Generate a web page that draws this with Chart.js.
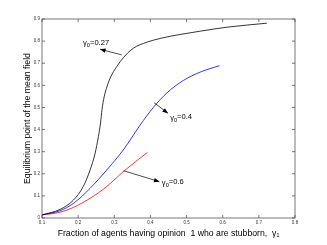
<!DOCTYPE html>
<html>
<head>
<meta charset="utf-8">
<script src="https://cdn.jsdelivr.net/npm/chart.js@4/dist/chart.umd.min.js"></script>
<style>
  html, body { margin: 0; padding: 0; background: #fff; }
  #wrap { width: 327px; height: 245px; }
</style>
</head>
<body>
<div id="wrap"><canvas id="myChart" width="327" height="245"></canvas></div>
<script>
// values
var x027 = [0.10, 0.15, 0.187, 0.214, 0.233, 0.247, 0.256, 0.262, 0.266, 0.272, 0.28, 0.29, 0.307, 0.325, 0.353, 0.39, 0.427, 0.455, 0.482, 0.538, 0.612, 0.722];
var y027 = [0.014, 0.039, 0.081, 0.142, 0.217, 0.293, 0.368, 0.43, 0.49, 0.548, 0.595, 0.638, 0.685, 0.725, 0.768, 0.795, 0.812, 0.822, 0.83, 0.845, 0.863, 0.881];

var x04 = [0.10, 0.15, 0.187, 0.233, 0.279, 0.325, 0.344, 0.371, 0.408, 0.445, 0.491, 0.538, 0.591];
var y04 = [0.014, 0.033, 0.066, 0.134, 0.217, 0.308, 0.353, 0.419, 0.50, 0.565, 0.622, 0.66, 0.689];

var x06 = [0.10, 0.15, 0.187, 0.233, 0.279, 0.325, 0.392];
var y06 = [0.014, 0.026, 0.048, 0.089, 0.142, 0.21, 0.297];

var xTicks = [0.1, 0.2, 0.3, 0.4, 0.5, 0.6, 0.7, 0.8];
var yTicks = [0, 0.1, 0.2, 0.3, 0.4, 0.5, 0.6, 0.7, 0.8, 0.9];

// labels: text after gamma_0, label anchor, arrow from curve -> head
var noteText = ['=0.27', '=0.4', '=0.6'];
var noteAt = [[0.2136, 0.783], [0.4546, 0.4466], [0.4316, 0.1525]];
var arrowFrom = [[0.3208, 0.7376], [0.4102, 0.5217], [0.3252, 0.214]];
var arrowTo = [[0.2607, 0.7633], [0.4485, 0.4738], [0.4249, 0.1643]];

var FONT = '"Liberation Sans", Arial, Helvetica, sans-serif';

function pts(xs, ys) {
    var out = [];
    for (var i = 0; i < xs.length; i++) out.push({x: xs[i], y: ys[i]});
    return out;
}

function arrow(ctx, x0, y0, x1, y1) {
    ctx.beginPath();
    ctx.moveTo(x0, y0);
    ctx.lineTo(x1, y1);
    ctx.stroke();
    var a = Math.atan2(y1 - y0, x1 - x0), L = 5.5, W = 2.2;
    ctx.beginPath();
    ctx.moveTo(x1, y1);
    ctx.lineTo(x1 - L * Math.cos(a) + W * Math.sin(a), y1 - L * Math.sin(a) - W * Math.cos(a));
    ctx.lineTo(x1 - L * Math.cos(a) - W * Math.sin(a), y1 - L * Math.sin(a) + W * Math.cos(a));
    ctx.closePath();
    ctx.fill();
}

var decor = {
    id: 'decor',
    afterDraw: function(chart) {
        var ctx = chart.ctx, a = chart.chartArea, xs = chart.scales.x, ys = chart.scales.y;
        ctx.save();
        ctx.strokeStyle = '#555';
        ctx.lineWidth = 0.8;
        ctx.strokeRect(a.left, a.top, a.right - a.left, a.bottom - a.top);
        ctx.beginPath();
        xTicks.forEach(function(v) {
            var p = xs.getPixelForValue(v);
            ctx.moveTo(p, a.bottom); ctx.lineTo(p, a.bottom - 3);
            ctx.moveTo(p, a.top); ctx.lineTo(p, a.top + 3);
        });
        yTicks.forEach(function(v) {
            var p = ys.getPixelForValue(v);
            ctx.moveTo(a.left, p); ctx.lineTo(a.left + 3, p);
            ctx.moveTo(a.right, p); ctx.lineTo(a.right - 3, p);
        });
        ctx.stroke();

        ctx.strokeStyle = '#222';
        ctx.fillStyle = '#000';
        ctx.lineWidth = 0.8;
        for (var i = 0; i < noteText.length; i++) {
            arrow(ctx, xs.getPixelForValue(arrowFrom[i][0]), ys.getPixelForValue(arrowFrom[i][1]),
                       xs.getPixelForValue(arrowTo[i][0]), ys.getPixelForValue(arrowTo[i][1]));
            var tx = xs.getPixelForValue(noteAt[i][0]), ty = ys.getPixelForValue(noteAt[i][1]);
            ctx.textBaseline = 'alphabetic';
            ctx.textAlign = 'left';
            ctx.font = '7.6px ' + FONT;
            ctx.fillText('γ', tx, ty + 0.5);
            tx += ctx.measureText('γ').width;
            ctx.font = '5.6px ' + FONT;
            ctx.fillText('0', tx, ty + 2.5);
            tx += ctx.measureText('0').width;
            ctx.font = '7.6px ' + FONT;
            ctx.fillText(noteText[i], tx, ty);
        }
        ctx.restore();
    }
};

var ctx = document.getElementById('myChart');
var myChart = new Chart(ctx, {
    type: 'scatter',
    data: {
        datasets: [
            {label: 'γ0=0.27', data: pts(x027, y027), borderColor: '#000', showLine: true},
            {label: 'γ0=0.4', data: pts(x04, y04), borderColor: '#0000ff', showLine: true},
            {label: 'γ0=0.6', data: pts(x06, y06), borderColor: '#ff0000', showLine: true}
        ]
    },
    plugins: [decor],
    options: {
        responsive: false,
        animation: false,
        devicePixelRatio: 1,
        layout: { padding: { left: 22.8, top: 19, right: 32, bottom: 5.8 } },
        elements: {
            point: { radius: 0 },
            line: { borderWidth: 0.8, cubicInterpolationMode: 'monotone', fill: false }
        },
        plugins: { legend: { display: false }, tooltip: { enabled: false } },
        scales: {
            x: {
                type: 'linear', min: 0.1, max: 0.8,
                afterBuildTicks: function(s) { s.ticks = xTicks.map(function(v) { return {value: v}; }); },
                afterFit: function(s) { s.height = 21.2; },
                grid: { display: false, drawTicks: false },
                border: { display: false },
                ticks: {
                    padding: 2, maxRotation: 0, autoSkip: false, color: '#333',
                    font: { size: 4.5, family: FONT },
                    callback: function(v) { return v.toFixed(1); }
                },
                title: {
                    display: true, color: '#000', padding: 0,
                    text: 'Fraction of agents having opinion  1 who are stubborn,  γ₁',
                    font: { size: 8.7, family: FONT }
                }
            },
            y: {
                type: 'linear', min: 0, max: 0.9,
                afterBuildTicks: function(s) { s.ticks = yTicks.map(function(v) { return {value: v}; }); },
                afterFit: function(s) { s.width = 19.2; },
                grid: { display: false, drawTicks: false },
                border: { display: false },
                ticks: {
                    padding: 2, autoSkip: false, color: '#333',
                    font: { size: 4.5, family: FONT },
                    callback: function(v) { return v === 0 ? '0' : v.toFixed(1); }
                },
                title: {
                    display: true, color: '#000', padding: 0,
                    text: 'Equilibrium point of the mean field',
                    font: { size: 8.7, family: FONT }
                }
            }
        }
    }
});
</script>
</body>
</html>
